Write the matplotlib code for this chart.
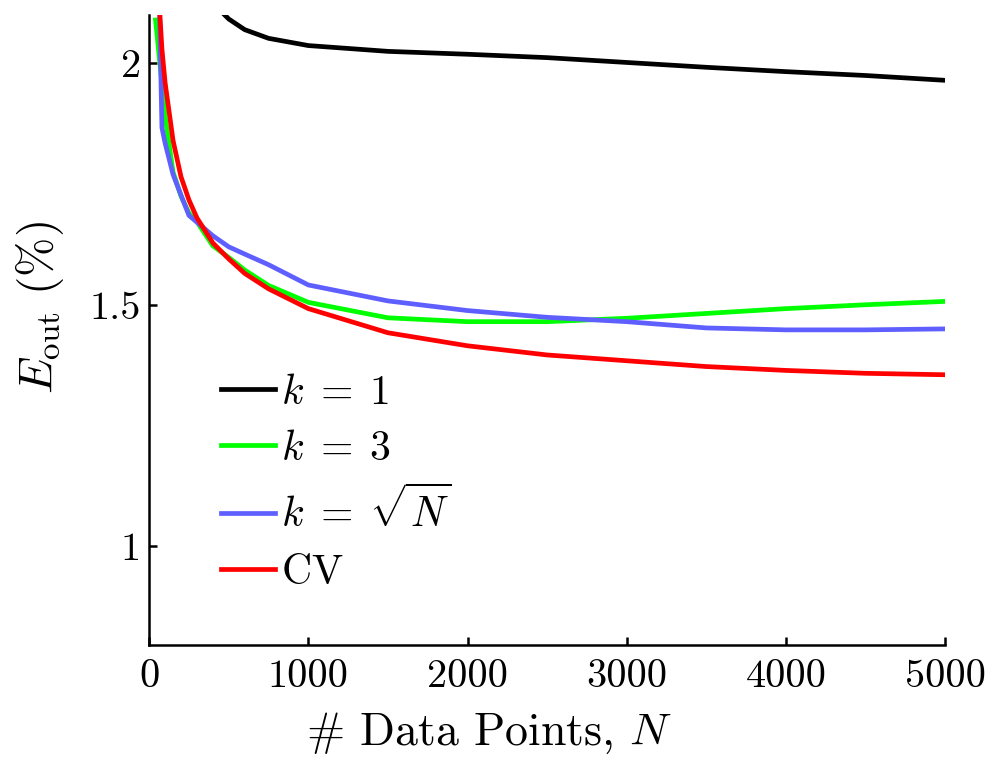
import matplotlib
matplotlib.use('Agg')
import matplotlib.pyplot as plt
from matplotlib.ticker import FuncFormatter

plt.rcParams['font.family'] = 'serif'
plt.rcParams['font.serif'] = ['cmr10']
plt.rcParams['mathtext.fontset'] = 'cm'
plt.rcParams['axes.unicode_minus'] = False

# number of data points
n_points = [40, 80, 100, 150, 200, 250, 300, 400, 500, 600, 750,
            1000, 1500, 2000, 2500, 3000, 3500, 4000, 4500, 5000]

# out-of-sample error (%)
err_k1 = [3.0, 2.8, 2.7, 2.55, 2.4, 2.3, 2.22, 2.125, 2.092, 2.07, 2.052,
          2.037, 2.025, 2.019, 2.012, 2.002, 1.992, 1.983, 1.975, 1.965]
err_k3 = [2.09, 1.958, 1.89, 1.775, 1.725, 1.69, 1.672, 1.622, 1.598, 1.572, 1.54,
          1.505, 1.473, 1.465, 1.465, 1.472, 1.482, 1.492, 1.500, 1.507]
err_ksqrt = [2.53, 1.867, 1.835, 1.77, 1.727, 1.685, 1.671, 1.643, 1.62, 1.605, 1.583,
             1.541, 1.508, 1.488, 1.474, 1.465, 1.452, 1.448, 1.448, 1.450]
err_cv = [2.25, 2.03, 1.96, 1.84, 1.765, 1.717, 1.68, 1.628, 1.595, 1.565, 1.533,
          1.492, 1.442, 1.415, 1.396, 1.384, 1.372, 1.364, 1.358, 1.355]

fig = plt.figure(figsize=(9.88, 7.58), dpi=100)
ax = fig.add_axes([0.151, 0.149, 0.8055, 0.831])

lw = 3.4
ax.plot(n_points, err_k1, color='black', lw=lw, label=r'$k\;=\;1$')
ax.plot(n_points, err_k3, color='#00ff00', lw=lw, label=r'$k\;=\;3$')
ax.plot(n_points, err_ksqrt, color='#5f5fff', lw=lw, label=r'$k\;=\;\sqrt{N}$')
ax.plot(n_points, err_cv, color='red', lw=lw, label=r'$\mathrm{CV}$')

ax.set_xlim(0, 5000)
ax.set_ylim(0.795, 2.1)
ax.set_xticks([0, 1000, 2000, 3000, 4000, 5000])
ax.set_yticks([1, 1.5, 2])
ax.yaxis.set_major_formatter(FuncFormatter(lambda v, p: '%g' % v))

for s in ['top', 'right']:
    ax.spines[s].set_visible(False)
for s in ['left', 'bottom']:
    ax.spines[s].set_linewidth(1.8)
ax.tick_params(direction='in', length=6, width=1.8, labelsize=29)
ax.tick_params(axis='x', pad=10)
ax.tick_params(axis='y', pad=6)

ax.set_xlabel(r'$\#$ Data Points, $N$', fontsize=33)
ax.xaxis.set_label_coords(0.427, -0.105)
ax.set_ylabel(r'$E_{\mathrm{out}}\ (\%)$', fontsize=34)
ax.yaxis.set_label_coords(-0.105, 0.535)

ax.legend(loc='upper left', bbox_to_anchor=(0.09, 0.43), frameon=False,
          fontsize=30, handlelength=1.3, handletextpad=0.15, labelspacing=0.45,
          borderpad=0, borderaxespad=0)

plt.savefig('out.png', dpi=100)
